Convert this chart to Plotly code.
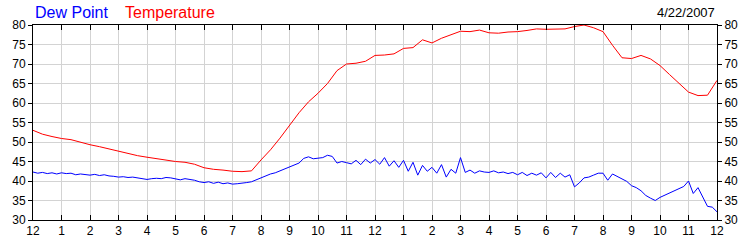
import plotly.graph_objects as go

# ---- data ----
hour_labels = ["12", "1", "2", "3", "4", "5", "6", "7", "8", "9", "10", "11",
               "12", "1", "2", "3", "4", "5", "6", "7", "8", "9", "10", "11", "12"]
hour_ticks = list(range(25))

# dew point every 10 minutes, 00:00 .. 24:00
dew_point = [
    42.3, 42.0, 42.2, 41.9, 42.1, 41.8,   # 0
    42.1, 41.9, 42.0, 41.6, 41.8, 41.6,   # 1
    41.5, 41.7, 41.4, 41.6, 41.3, 41.2,   # 2
    41.0, 41.1, 40.9, 41.0, 40.8, 40.6,   # 3
    40.4, 40.6, 40.7, 40.6, 40.9, 40.8,   # 4
    40.5, 40.3, 40.6, 40.4, 40.2, 39.8,   # 5
    39.6, 39.8, 39.4, 39.7, 39.3, 39.5,   # 6
    39.2, 39.3, 39.4, 39.6, 39.8, 40.3,   # 7
    41.0, 41.5, 41.8, 42.1, 42.6, 43.0,   # 8
    43.6, 44.0, 44.6, 45.8, 46.2, 45.7,   # 9
    45.8, 46.0, 46.6, 46.3, 44.6, 45.0,   # 10
    44.7, 44.4, 45.3, 44.2, 45.6, 44.6,   # 11
    45.5, 44.3, 46.0, 43.8, 45.2, 43.5,   # 12
    45.3, 42.5, 44.8, 41.5, 44.0, 42.5,   # 13
    43.5, 42.0, 44.2, 41.0, 43.0, 42.0,   # 14
    46.0, 42.2, 42.8, 42.0, 42.6, 42.3,   # 15
    42.2, 42.6, 42.1, 42.3, 41.9, 42.2,   # 16
    41.6, 42.2, 41.4, 42.0, 41.5, 42.1,   # 17
    40.8, 42.2, 40.9, 42.0, 41.0, 41.6,   # 18
    38.5, 39.5, 40.8, 41.0, 41.5, 42.0,   # 19
    42.0, 40.2, 41.8, 41.2, 40.6, 39.9,   # 20
    38.8, 38.3, 37.5, 36.3, 35.6, 35.0,   # 21
    35.8, 36.4, 37.0, 37.5, 38.0, 38.6,   # 22
    40.0, 36.8, 38.3, 36.0, 33.5, 33.3,   # 23
    32.1,
]
dew_hours = [i / 6 for i in range(len(dew_point))]

# temperature every 20 minutes, 00:00 .. 24:00
temperature = [
    53.0, 52.0, 51.4,   # 0
    50.9, 50.6, 49.9,   # 1
    49.3, 48.8, 48.2,   # 2
    47.6, 47.0, 46.5,   # 3
    46.1, 45.7, 45.3,   # 4
    45.0, 44.8, 44.3,   # 5
    43.4, 43.0, 42.8,   # 6
    42.5, 42.4, 42.6,   # 7
    45.4, 48.0, 51.0,   # 8
    54.2, 57.5, 60.3,   # 9
    62.5, 65.0, 68.3,   # 10
    70.0, 70.2, 70.7,   # 11
    72.2, 72.3, 72.6,   # 12
    74.0, 74.2, 76.2,   # 13
    75.4, 76.6, 77.4,   # 14
    78.4, 78.3, 78.7,   # 15
    78.0, 77.9, 78.2,   # 16
    78.3, 78.6, 79.0,   # 17
    78.9, 78.9, 79.0,   # 18
    79.6, 80.0, 79.3,   # 19
    78.3, 74.8, 71.6,   # 20
    71.4, 72.2, 71.3,   # 21
    69.6, 67.3, 65.0,   # 22
    62.8, 61.9, 62.0,   # 23
    65.8,
]
temp_hours = [i / 3 for i in range(len(temperature))]

FONT = "Liberation Sans, Arial, sans-serif"

fig = go.Figure()
fig.add_trace(go.Scatter(x=dew_hours, y=dew_point, mode="lines",
                         line=dict(color="#0000ff", width=1), name="Dew Point"))
fig.add_trace(go.Scatter(x=temp_hours, y=temperature, mode="lines",
                         line=dict(color="#ff0000", width=1), name="Temperature"))
# invisible trace to activate the right axis
fig.add_trace(go.Scatter(x=[0], y=[30], yaxis="y2", mode="markers",
                         marker=dict(opacity=0), showlegend=False, hoverinfo="skip"))

fig.update_layout(
    width=750, height=250,
    margin=dict(l=31, r=31, t=25, b=25),
    paper_bgcolor="white", plot_bgcolor="white",
    showlegend=False,
    font=dict(family=FONT, size=12, color="black"),
    xaxis=dict(range=[0, 24], tickvals=hour_ticks, ticktext=hour_labels,
               showgrid=True, gridcolor="#d3d3d3", gridwidth=1,
               showline=True, linecolor="black", linewidth=1, mirror="ticks",
               ticks="inside", ticklen=5, tickcolor="black", zeroline=False,
               tickfont=dict(family=FONT, size=12, color="black")),
    yaxis=dict(range=[30, 80], dtick=5, tick0=30,
               showgrid=True, gridcolor="#d3d3d3", gridwidth=1,
               showline=True, linecolor="black", linewidth=1,
               ticks="outside", ticklen=4, tickcolor="black", zeroline=False,
               tickfont=dict(family=FONT, size=12, color="black")),
    yaxis2=dict(range=[30, 80], dtick=5, tick0=30, overlaying="y", side="right",
                showgrid=False, showline=True, linecolor="black", linewidth=1,
                ticks="outside", ticklen=4, tickcolor="black", zeroline=False,
                tickfont=dict(family=FONT, size=12, color="black")),
    annotations=[
        dict(text="Dew Point", xref="paper", yref="paper", x=0, y=1.065,
             xanchor="left", yanchor="middle", xshift=0, showarrow=False,
             font=dict(family=FONT, size=16, color="#0000ff")),
        dict(text="Temperature", xref="paper", yref="paper", x=0, y=1.065,
             xanchor="left", yanchor="middle", xshift=90, showarrow=False,
             font=dict(family=FONT, size=16, color="#ff0000")),
        dict(text="4/22/2007", xref="paper", yref="paper", x=1, y=1.0625,
             xanchor="right", yanchor="middle", showarrow=False,
             font=dict(family=FONT, size=13, color="black")),
    ],
)

fig.write_html("out.html")
